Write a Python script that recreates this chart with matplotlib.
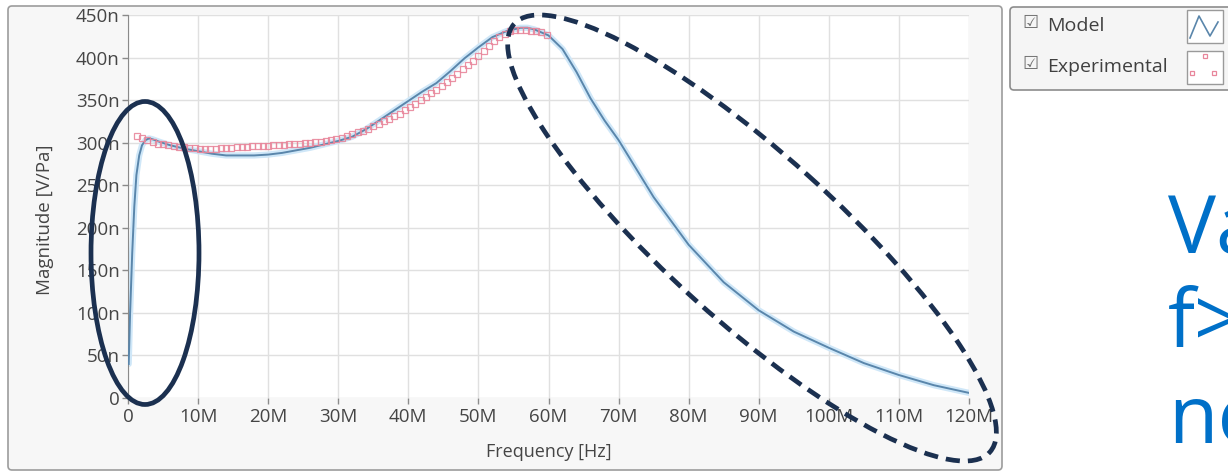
import numpy as np
import matplotlib.pyplot as plt
from matplotlib.patches import Ellipse, FancyBboxPatch, Rectangle

plt.rcParams['font.family'] = ['Open Sans', 'DejaVu Sans']

#---------------------Donnees-------------------
# modele : frequence [MHz], amplitude [nV/Pa]
f_model = [0.1, 0.3, 0.6, 0.9, 1.2, 1.6, 2.0, 2.5, 3.0, 3.5, 4.5, 6, 8, 10, 12, 14, 16, 18,
           20, 22, 24, 26, 28, 30, 32, 34, 36, 38, 40, 42, 44, 46, 48, 50, 52, 54, 56, 57,
           58, 60, 62, 64, 66, 68, 70, 75, 80, 85, 90, 95, 100, 105, 110, 115, 120]
mag_model = [40, 100, 170, 225, 262, 285, 297, 303, 305, 304, 301, 297, 293, 290, 287, 285, 285, 285,
             286, 288, 291, 294, 298, 302, 307, 316, 327, 338, 349, 360, 370, 384, 399, 412, 424, 431, 435, 435,
             433, 426, 410, 383, 352, 326, 303, 236, 180, 136, 103, 78, 59, 41, 27, 15, 6]

# mesures : frequence [MHz], amplitude [nV/Pa]
f_exp = [1.25, 2.0, 2.75, 3.5, 4.25, 5.0, 5.75, 6.5, 7.25, 8.0, 8.75, 9.5, 10.25, 11.0, 11.75,
         12.5, 13.25, 14.0, 14.75, 15.5, 16.25, 17.0, 17.75, 18.5, 19.25, 20.0, 20.75, 21.5,
         22.25, 23.0, 23.75, 24.5, 25.25, 26.0, 26.75, 27.5, 28.25, 29.0, 29.75, 30.5, 31.25,
         32.0, 32.75, 33.5, 34.25, 35.0, 35.75, 36.5, 37.25, 38.0, 38.75, 39.5, 40.25, 41.0,
         41.75, 42.5, 43.25, 44.0, 44.75, 45.5, 46.25, 47.0, 47.75, 48.5, 49.25, 50.0, 50.75,
         51.5, 52.25, 53.0, 53.75, 54.5, 55.25, 56.0, 56.75, 57.5, 58.25, 59.0, 59.75]
mag_exp = [308, 305, 303, 301, 299, 298, 297, 296, 295, 294.5, 294, 293.5, 293, 293, 293,
           293, 293.5, 294, 294, 294.5, 295, 295, 295.5, 296, 296, 296.5, 297, 297,
           297.5, 298, 298.5, 299, 299.5, 300, 300.5, 301, 302, 303, 304, 306, 308,
           310, 312, 314, 316, 319, 322, 325, 328, 331, 334, 338, 342, 346,
           350, 354, 358, 362, 367, 371, 376, 381, 386, 391, 396, 402, 408,
           414, 419, 424, 428, 431, 432, 432, 432, 431, 431, 430, 427]

xticks = [0, 10, 20, 30, 40, 50, 60, 70, 80, 90, 100, 110, 120]
xlabels = ['0', '10M', '20M', '30M', '40M', '50M', '60M', '70M', '80M', '90M', '100M', '110M', '120M']
yticks = [0, 50, 100, 150, 200, 250, 300, 350, 400, 450]
ylabels = ['0', '50n', '100n', '150n', '200n', '250n', '300n', '350n', '400n', '450n']

c_model = '#5a86ab'
c_exp = '#e8869b'
c_navy = '#1b3050'
c_grey = '#454545'

#---------------------Figure------------------------------
W, H = 1228, 476
fig = plt.figure(figsize=(W/100, H/100), dpi=100)

# fond : cadre du graphe et boite de legende (coordonnees pixels)
bg = fig.add_axes([0, 0, 1, 1], zorder=0)
bg.set_xlim(0, W)
bg.set_ylim(H, 0)
bg.axis('off')
bg.add_patch(FancyBboxPatch((8, 6), 994, 464, boxstyle='round,pad=0,rounding_size=4',
                            fc='#f7f7f7', ec='#9c9c9c', lw=1.2))
bg.add_patch(FancyBboxPatch((1010, 7), 240, 83, boxstyle='round,pad=0,rounding_size=4',
                            fc='#f5f5f5', ec='#8c8c8c', lw=1.2))
for yy, lab in [(26, 'Model'), (67, 'Experimental')]:
    bg.text(1030, yy - 3, '\u2611', family='DejaVu Sans', fontsize=13, color='#707070',
            ha='center', va='center')
    bg.text(1047, yy, lab, fontsize=14, color='#404040', va='center')
    bg.add_patch(Rectangle((1187, yy - 16), 36, 33, fc='white', ec='#9a9a9a', lw=1))
# icones de la legende
bg.plot([1190, 1199, 1210, 1218], [38, 16, 36, 22], color=c_model, lw=1.2)
bg.plot([1192, 1205, 1214], [73, 56, 73], ls='none', marker='s', ms=3.5,
        mfc='none', mec=c_exp, mew=0.9)

# texte de la diapositive
for yy, txt in [(253, 'Va'), (347, 'f>'), (443, 'ne')]:
    bg.text(1168, yy, txt, fontsize=58, color='#0070c8', va='baseline', ha='left')

#---------------------Courbes------------------------------
ax = fig.add_axes([128/W, 1 - 398/H, 841/W, 383/H], zorder=1)
ax.set_facecolor('white')
ax.plot(f_model, mag_model, color='#cfe7f8', lw=4.5, solid_capstyle='round', zorder=2)
ax.plot(f_model, mag_model, color=c_model, lw=1.4, zorder=3)
ax.plot(f_exp, mag_exp, ls='none', marker='s', ms=4.2, mfc='none', mec=c_exp, mew=0.9,
        alpha=0.9, zorder=4)

ax.set_xlim(0, 120)
ax.set_ylim(0, 450)
ax.set_xticks(xticks)
ax.set_xticklabels(xlabels)
ax.set_yticks(yticks)
ax.set_yticklabels(ylabels)
ax.grid(True, color='#e0e0e0', lw=1)
ax.set_axisbelow(True)
for s in ['top', 'right', 'bottom']:
    ax.spines[s].set_visible(False)
ax.spines['left'].set_color('#8a8a8a')
ax.tick_params(colors='#8a8a8a', labelcolor=c_grey, labelsize=13.5, length=4.5, width=1)
ax.tick_params(axis='y', pad=1.5)
ax.tick_params(axis='x', pad=3)
ax.set_xlabel('Frequency [Hz]', fontsize=13, color=c_grey)
ax.set_ylabel('Magnitude [V/Pa]', fontsize=13.5, color=c_grey)
ax.xaxis.set_label_coords(0.5, -0.117)
ax.yaxis.set_label_coords(-0.088, 0.465)

#---------------------Annotations------------------------------
fg = fig.add_axes([0, 0, 1, 1], zorder=2)
fg.set_xlim(0, W)
fg.set_ylim(H, 0)
fg.axis('off')
fg.patch.set_alpha(0)
fg.add_patch(Ellipse((145, 253), 108, 303, fill=False, ec=c_navy, lw=3.4))
fg.add_patch(Ellipse((752, 238), 640, 168, angle=42, fill=False, ec=c_navy, lw=3.4,
                     ls=(0, (3, 1.7))))

plt.savefig('out.png', dpi=100)
